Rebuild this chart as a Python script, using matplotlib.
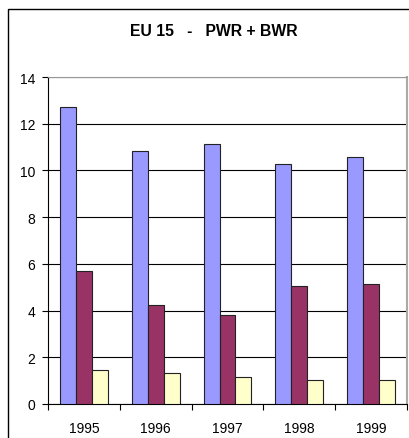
import matplotlib
matplotlib.use("Agg")
import matplotlib.pyplot as plt
import numpy as np
from matplotlib.patches import Rectangle

years = ["1995", "1996", "1997", "1998", "1999"]
series_a = [12.70, 10.83, 11.15, 10.26, 10.56]
series_b = [5.68, 4.22, 3.83, 5.04, 5.12]
series_c = [1.47, 1.31, 1.16, 1.03, 1.03]
colors = ["#9999FF", "#993366", "#FFFFCC"]
yticks = [0, 2, 4, 6, 8, 10, 12, 14]

plt.rcParams['font.family'] = ['Liberation Sans', 'DejaVu Sans']

fig = plt.figure(figsize=(4.09, 4.39), dpi=100)
ax = fig.add_axes([48/409, 34/439, (407-48)/409, (405-78)/439])

x = np.arange(len(years))
w = 16/72
for i, (vals, c) in enumerate(zip([series_a, series_b, series_c], colors)):
    ax.bar(x + (i - 1) * w, vals, width=w, color=c, edgecolor="#222222",
           linewidth=0.8, zorder=3)

ax.set_xlim(-0.5, len(years) - 0.5)
ax.set_ylim(0, 14)
ax.set_yticks(yticks)
ax.set_yticklabels([str(t) for t in yticks], fontsize=10)
ax.yaxis.grid(True, color="black", linewidth=0.8, zorder=0)
ax.set_axisbelow(True)

ax.set_xticks(x)
ax.set_xticklabels(years, fontsize=10)
ax.tick_params(axis='x', length=0, pad=12)
ax.set_xticks(np.arange(-0.5, len(years)), minor=True)
ax.tick_params(axis='x', which='minor', length=4, width=0.8, direction='out')
ax.tick_params(axis='y', length=4, width=0.8, direction='out', pad=5)

ax.spines['top'].set_color('#999999')
ax.spines['right'].set_color('#aaaaaa')
ax.spines['right'].set_linewidth(1.5)
ax.spines['left'].set_color('black')
ax.spines['bottom'].set_color('black')

fig.text(214/409, 1 - 32/439, "EU 15   -   PWR + BWR", ha='center', va='center',
         fontsize=11.3, fontweight='bold')

fig.patches.append(Rectangle((8/409, -0.05), 1.0, 1 - 10/439 + 0.05,
                             transform=fig.transFigure, fill=False,
                             edgecolor='black', linewidth=1.0))

fig.savefig("out.png", dpi=100)
